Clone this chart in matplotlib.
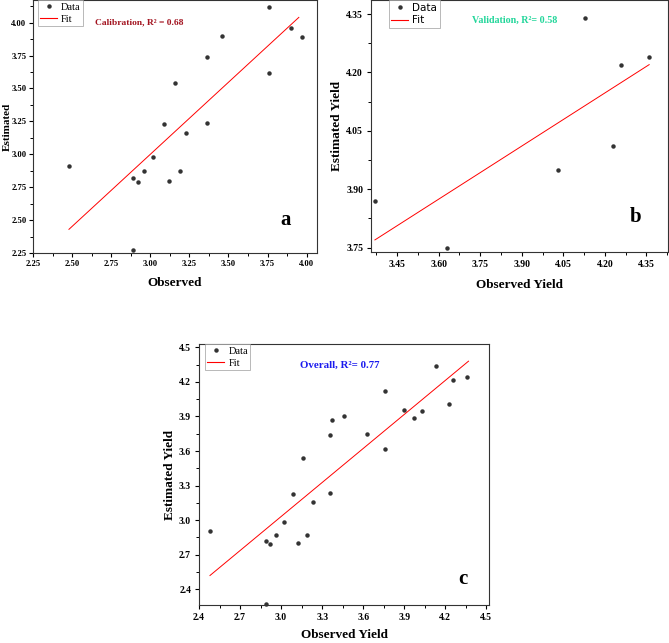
import matplotlib.pyplot as plt
import numpy as np
from matplotlib.ticker import AutoMinorLocator, FixedLocator, FormatStrFormatter
from matplotlib.lines import Line2D

# Calibration data (panel a)
cal_obs = [2.48, 2.89, 2.92, 2.96, 3.02, 3.09, 3.12, 3.16, 3.19, 3.23,
           3.36, 3.36, 3.46, 3.76, 3.76, 3.90, 3.97, 2.89]
cal_est = [2.91, 2.82, 2.79, 2.87, 2.98, 3.23, 2.80, 3.54, 2.87, 3.16,
           3.24, 3.74, 3.90, 4.12, 3.62, 3.96, 3.89, 2.27]
cal_fit_x = [2.48, 3.95]
cal_fit_y = [2.43, 4.04]

# Validation data (panel b)
val_obs = [3.37, 3.63, 4.03, 4.13, 4.23, 4.26, 4.36]
val_est = [3.87, 3.75, 3.95, 4.34, 4.01, 4.22, 4.24]
val_fit_x = [3.37, 4.36]
val_fit_y = [3.77, 4.22]

# Overall data (panel c)
all_obs = cal_obs + val_obs
all_est = cal_est + val_est
all_fit_x = [2.48, 4.37]
all_fit_y = [2.52, 4.38]

a_ticks = [2.25, 2.50, 2.75, 3.00, 3.25, 3.50, 3.75, 4.00]
b_xticks = [3.45, 3.60, 3.75, 3.90, 4.05, 4.20, 4.35]
b_yticks = [3.75, 3.90, 4.05, 4.20, 4.35]
c_ticks = [2.4, 2.7, 3.0, 3.3, 3.6, 3.9, 4.2, 4.5]

serif = ['Liberation Serif', 'DejaVu Serif']
plt.rcParams['font.family'] = serif

fig = plt.figure(figsize=(6.69, 6.43), dpi=100)
ax_a = fig.add_axes([0.0493, 0.6065, 0.4245, 0.3935])
ax_b = fig.add_axes([0.5546, 0.6081, 0.4439, 0.3919])
ax_c = fig.add_axes([0.2975, 0.0591, 0.4335, 0.4059])


def style(ax, xt, yt, xlim, ylim, fmt, xlabel, ylabel, ypad=2, xpad=7,
          size=7, pad=2.5):
    ax.set_xlim(*xlim)
    ax.set_ylim(*ylim)
    ax.xaxis.set_major_locator(FixedLocator(xt))
    ax.yaxis.set_major_locator(FixedLocator(yt))
    ax.xaxis.set_minor_locator(AutoMinorLocator(2))
    ax.yaxis.set_minor_locator(AutoMinorLocator(2))
    ax.xaxis.set_major_formatter(FormatStrFormatter(fmt))
    ax.yaxis.set_major_formatter(FormatStrFormatter(fmt))
    ax.tick_params(which='major', direction='out', length=3.2, width=0.8,
                   labelsize=size, pad=pad, top=False, right=False)
    ax.tick_params(which='minor', direction='out', length=2.0, width=0.7,
                   top=False, right=False)
    for lab in ax.get_xticklabels() + ax.get_yticklabels():
        lab.set_fontweight('bold')
    for s in ax.spines.values():
        s.set_linewidth(0.8)
        s.set_color('#333333')
    ax.set_xlabel(xlabel, fontsize=9.5, fontweight='bold', labelpad=xpad)
    ax.set_ylabel(ylabel, fontsize=9.5, fontweight='bold', labelpad=ypad)


def legend(ax, x, fam):
    h = [Line2D([], [], ls='none', marker='o', ms=2.2, color='#333333'),
         Line2D([], [], color='red', lw=0.8)]
    lg = ax.legend(h, ['Data', 'Fit'], loc='upper left', bbox_to_anchor=(x, 1.0),
                   frameon=True, fancybox=False, edgecolor='#999999',
                   prop={'family': fam, 'size': 7.5}, handlelength=1.6,
                   handletextpad=0.4, borderpad=0.25, labelspacing=0.25,
                   borderaxespad=0)
    lg.get_frame().set_linewidth(0.6)


# Panel a
ax_a.plot(cal_obs, cal_est, 'o', ms=2.2, color='#333333', clip_on=False)
ax_a.plot(cal_fit_x, cal_fit_y, color='red', lw=0.7)
style(ax_a, a_ticks, a_ticks, (2.25, 4.066), (2.25, 4.172), '%.2f',
      'Observed', 'Estimated', size=6.2, pad=1.5)
ax_a.yaxis.label.set_fontsize(8)
ax_a.yaxis.set_label_coords(-0.076, 0.5)
legend(ax_a, 0.017, serif)
ax_a.text(0.375, 0.913, 'Calibration, R² = 0.68', transform=ax_a.transAxes,
          ha='center', va='center', color='#a31420', fontsize=6.8, fontweight='bold')
ax_a.text(0.89, 0.13, 'a', transform=ax_a.transAxes, ha='center', va='center',
          fontsize=15, fontweight='bold')

# Panel b
ax_b.plot(val_obs, val_est, 'o', ms=2.2, color='#333333', clip_on=False)
ax_b.plot(val_fit_x, val_fit_y, color='red', lw=0.7)
style(ax_b, b_xticks, b_yticks, (3.356, 4.428), (3.739, 4.386), '%.2f',
      'Observed Yield', 'Estimated Yield')
legend(ax_b, 0.06, ['DejaVu Sans'])
ax_b.text(0.485, 0.92, 'Validation, R²= 0.58', transform=ax_b.transAxes,
          ha='center', va='center', color='#22d69a', fontsize=7.2, fontweight='bold')
ax_b.text(0.89, 0.14, 'b', transform=ax_b.transAxes, ha='center', va='center',
          fontsize=15, fontweight='bold')

# Panel c
ax_c.plot(all_obs, all_est, 'o', ms=2.2, color='#333333', clip_on=False)
ax_c.plot(all_fit_x, all_fit_y, color='red', lw=0.7)
style(ax_c, c_ticks, c_ticks, (2.4, 4.52), (2.264, 4.529), '%.1f',
      'Observed Yield', 'Estimated Yield', xpad=5)
legend(ax_c, 0.02, serif)
ax_c.text(0.486, 0.92, 'Overall, R²= 0.77', transform=ax_c.transAxes,
          ha='center', va='center', color='#1a1aee', fontsize=7.8, fontweight='bold')
ax_c.text(0.91, 0.10, 'c', transform=ax_c.transAxes, ha='center', va='center',
          fontsize=15, fontweight='bold')

plt.savefig('out.png', dpi=100)
